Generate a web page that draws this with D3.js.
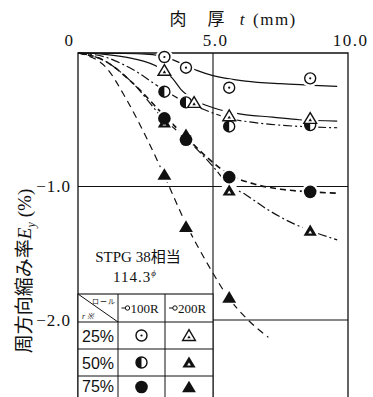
<!DOCTYPE html>
<html>
<head>
<meta charset="utf-8">
<script src="https://d3js.org/d3.v7.min.js"></script>
<style>
body { margin: 0; background: #fff; }
text { fill: #111; }
</style>
</head>
<body>
<svg id="chart" width="373" height="397"></svg>
<script>
// valeurs : t en mm, Ey en %
const xTicks = [0, 5, 10];
const yTicks = [-1, -2];
const rates = ["25%", "50%", "75%"];
const rolls = ["100R", "200R"];

// points mesurés
const t25_100 = [3.2, 4.0, 5.6, 8.6];
const e25_100 = [-0.03, -0.11, -0.26, -0.19];
const t25_200 = [3.2, 4.3, 5.6, 8.6];
const e25_200 = [-0.13, -0.37, -0.47, -0.49];
const t50_100 = [3.2, 4.0, 5.6, 8.6];
const e50_100 = [-0.29, -0.37, -0.55, -0.54];
const t50_200 = [3.2, 4.0, 5.6, 8.6];
const e50_200 = [-0.52, -0.61, -1.03, -1.33];
const t75_100 = [3.2, 4.0, 5.6, 8.6];
const e75_100 = [-0.49, -0.65, -0.93, -1.04];
const t75_200 = [3.2, 4.0, 5.6];
const e75_200 = [-0.91, -1.30, -1.83];

// courbes tracées
const fit25_100 = [[0,0],[1.5,-0.003],[2.5,-0.008],[3.0,-0.02],[3.5,-0.05],[4.4,-0.13],[5.0,-0.17],[6.2,-0.21],[7.5,-0.23],[8.5,-0.24],[9.6,-0.25]];
const fit25_200 = [[0,0],[1,-0.01],[2,-0.04],[3,-0.11],[3.5,-0.19],[3.8,-0.27],[4.3,-0.35],[5.0,-0.41],[6.1,-0.46],[7.2,-0.48],[8.2,-0.50],[9.6,-0.51]];
const fit50_100 = [[0,0],[1,-0.03],[2,-0.12],[3.2,-0.28],[4.0,-0.37],[4.5,-0.41],[5.0,-0.45],[5.6,-0.49],[6.5,-0.52],[8.2,-0.55],[9.6,-0.56]];
const fit50_200 = [[0,0],[1,-0.06],[2,-0.22],[3.2,-0.50],[4.0,-0.64],[5.0,-0.85],[5.6,-0.99],[6.2,-1.06],[7.0,-1.17],[8.0,-1.28],[8.6,-1.33],[9.6,-1.40]];
const fit75_100 = [[0,0],[1,-0.06],[2,-0.22],[3.2,-0.47],[4.0,-0.63],[5.0,-0.82],[5.6,-0.91],[6.5,-0.98],[7.5,-1.02],[8.6,-1.04],[9.6,-1.05]];
const fit75_200 = [[0,0],[1,-0.10],[1.8,-0.35],[2.5,-0.62],[3.2,-0.92],[4.0,-1.28],[4.8,-1.58],[5.6,-1.84],[6.3,-2.0],[7.05,-2.13]];

const svg = d3.select("#chart");

const x = d3.scaleLinear().domain([0, 10]).range([78, 348]);
const y = d3.scaleLinear().domain([0, -2]).range([53, 320]);

const serif = "'Liberation Serif', 'DejaVu Serif', serif";
const cjk = "'Noto Sans CJK JP', sans-serif";

// cadre + grille
svg.append("path")
  .attr("d", `M${x(0)},397 V${y(0)} H${x(10)} V397`)
  .attr("fill", "none").attr("stroke", "#111").attr("stroke-width", 1.3);
svg.append("line")
  .attr("x1", x(5)).attr("x2", x(5)).attr("y1", y(0)).attr("y2", 397)
  .attr("stroke", "#111").attr("stroke-width", 1.1);
svg.selectAll(".hgrid")
  .data(yTicks)
  .enter()
  .append("line")
  .attr("x1", x(0)).attr("x2", x(10))
  .attr("y1", d => y(d)).attr("y2", d => y(d))
  .attr("stroke", "#111").attr("stroke-width", 1.1);

// axes (labels seulement)
const xAxis = svg.append("g")
  .attr("transform", `translate(0,${y(0) - 4})`)
  .call(d3.axisTop(x).tickValues(xTicks).tickSize(0)
    .tickFormat(d => d === 0 ? "0" : d.toFixed(1)));
xAxis.select(".domain").remove();
xAxis.selectAll("text")
  .attr("font-family", serif).attr("font-size", 17)
  .attr("letter-spacing", 1.5).attr("fill", "#111")
  .attr("dx", d => d === 0 ? -9 : 2);

const yAxis = svg.append("g")
  .attr("transform", `translate(${x(0) - 4},0)`)
  .call(d3.axisLeft(y).tickValues(yTicks).tickSize(0)
    .tickFormat(d => "\u2212" + Math.abs(d).toFixed(1)));
yAxis.select(".domain").remove();
yAxis.selectAll("text")
  .attr("font-family", serif).attr("font-size", 17)
  .attr("letter-spacing", 1).attr("fill", "#111");

// titre de l'axe x
const title = svg.append("g").attr("font-size", 17);
title.append("text").attr("x", 178).attr("y", 25).attr("text-anchor", "middle")
  .attr("font-family", cjk).text("肉");
title.append("text").attr("x", 216).attr("y", 25).attr("text-anchor", "middle")
  .attr("font-family", cjk).text("厚");
title.append("text").attr("x", 242).attr("y", 25).attr("text-anchor", "middle")
  .attr("font-family", serif).attr("font-style", "italic").text("t");
title.append("text").attr("x", 253).attr("y", 25)
  .attr("font-family", serif).attr("letter-spacing", 1.5).text("(mm)");

// titre de l'axe y
const ylab = svg.append("text")
  .attr("transform", "translate(31,271) rotate(-90)")
  .attr("text-anchor", "middle")
  .attr("font-size", 19);
ylab.append("tspan").attr("font-family", cjk).text("周方向縮み率");
ylab.append("tspan").attr("font-family", serif).attr("font-style", "italic").text("E");
ylab.append("tspan").attr("font-family", serif).attr("font-style", "italic")
  .attr("font-size", 12).attr("dy", 4).text("y");
ylab.append("tspan").attr("font-family", serif).attr("dy", -4).attr("dx", 5).text("(%)");

// courbes
const line = d3.line()
  .x(d => x(d[0]))
  .y(d => y(d[1]))
  .curve(d3.curveMonotoneX);

const curves = [
  { pts: fit25_100, dash: null, w: 1.2 },
  { pts: fit25_200, dash: null, w: 1.2 },
  { pts: fit50_100, dash: "9,3,2,3", w: 1.2 },
  { pts: fit50_200, dash: "9,3,2,3", w: 1.2 },
  { pts: fit75_100, dash: "6,4", w: 1.6 },
  { pts: fit75_200, dash: "7,5", w: 1.2 }
];

svg.selectAll(".curve")
  .data(curves)
  .enter()
  .append("path")
  .attr("d", d => line(d.pts))
  .attr("fill", "none")
  .attr("stroke", "#111")
  .attr("stroke-width", d => d.w)
  .attr("stroke-dasharray", d => d.dash);

// marqueurs
function triPath(s) {
  return `M0,${-s} L${s * 1.1},${s * 0.85} L${-s * 1.1},${s * 0.85} Z`;
}

function drawMarker(g, type) {
  if (type === "circDot") {
    g.append("circle").attr("r", 5.5).attr("fill", "#fff").attr("stroke", "#111").attr("stroke-width", 1.4);
    g.append("circle").attr("r", 1.1).attr("fill", "#111");
  } else if (type === "circHalf") {
    g.append("circle").attr("r", 5.5).attr("fill", "#fff").attr("stroke", "#111").attr("stroke-width", 1.4);
    g.append("path").attr("d", "M0,-5.5 A5.5,5.5 0 0 0 0,5.5 Z").attr("fill", "#111");
  } else if (type === "circFull") {
    g.append("circle").attr("r", 6.3).attr("fill", "#111");
  } else if (type === "triDot") {
    g.append("path").attr("d", triPath(5.8)).attr("fill", "#fff").attr("stroke", "#111").attr("stroke-width", 1.4);
    g.append("path").attr("d", triPath(1.6)).attr("transform", "translate(0,1.5)").attr("fill", "#111");
  } else if (type === "triBold") {
    g.append("path").attr("d", triPath(6)).attr("fill", "#111");
    g.append("path").attr("d", triPath(1.7)).attr("transform", "translate(0,1.6)").attr("fill", "#fff");
  } else if (type === "triFull") {
    g.append("path").attr("d", triPath(6.3)).attr("fill", "#111");
  }
}

const series = [
  { t: t50_200, e: e50_200, type: "triBold" },
  { t: t50_100, e: e50_100, type: "circHalf" },
  { t: t25_200, e: e25_200, type: "triDot" },
  { t: t25_100, e: e25_100, type: "circDot" },
  { t: t75_100, e: e75_100, type: "circFull" },
  { t: t75_200, e: e75_200, type: "triFull" }
];

const points = [];
series.forEach(s => s.t.forEach((t, i) => points.push({ t: t, e: s.e[i], type: s.type })));

// blanc autour des points : coupe les courbes
svg.selectAll(".halo")
  .data(points)
  .enter()
  .append("circle")
  .attr("cx", d => x(d.t))
  .attr("cy", d => y(d.e))
  .attr("r", 8.5)
  .attr("fill", "#fff");

svg.selectAll(".pt")
  .data(points)
  .enter()
  .append("g")
  .attr("transform", d => `translate(${x(d.t)},${y(d.e)})`)
  .each(function(d) { drawMarker(d3.select(this), d.type); });

// texte matériau
svg.append("text")
  .attr("x", 138).attr("y", 262)
  .attr("text-anchor", "middle")
  .attr("font-size", 15)
  .call(t => {
    t.append("tspan").attr("font-family", serif).text("STPG 38");
    t.append("tspan").attr("font-family", cjk).text("相当");
  });
svg.append("text")
  .attr("x", 135).attr("y", 282)
  .attr("text-anchor", "middle")
  .attr("font-family", serif)
  .attr("font-size", 15)
  .attr("letter-spacing", 1)
  .call(t => {
    t.append("tspan").text("114.3");
    t.append("tspan").attr("font-size", 9).attr("dy", -6).attr("font-style", "italic").text("ϕ");
  });

// tableau légende
const colX = [78, 118, 165, 213];
const rowY = [294, 322, 349, 376, 403];
const table = svg.append("g");
table.append("rect")
  .attr("x", colX[0]).attr("y", rowY[0])
  .attr("width", colX[3] - colX[0]).attr("height", 397 - rowY[0] + 5)
  .attr("fill", "#fff").attr("stroke", "#111").attr("stroke-width", 1.1);
colX.slice(1, 3).forEach(cx => {
  table.append("line").attr("x1", cx).attr("x2", cx).attr("y1", rowY[0]).attr("y2", 397)
    .attr("stroke", "#111").attr("stroke-width", 1);
});
rowY.slice(1, 4).forEach(ry => {
  table.append("line").attr("x1", colX[0]).attr("x2", colX[3]).attr("y1", ry).attr("y2", ry)
    .attr("stroke", "#111").attr("stroke-width", 1);
});
table.append("line")
  .attr("x1", colX[0]).attr("y1", rowY[0]).attr("x2", colX[1]).attr("y2", rowY[1])
  .attr("stroke", "#111").attr("stroke-width", 1);
table.append("text").attr("x", 104).attr("y", 304)
  .attr("text-anchor", "middle").attr("font-family", cjk).attr("font-size", 7)
  .attr("letter-spacing", 1).text("ロール");
table.append("text").attr("x", 82).attr("y", 319)
  .attr("font-family", serif).attr("font-size", 8).attr("font-style", "italic")
  .text("r ※");

rolls.forEach((r, i) => {
  const cx = (colX[i + 1] + colX[i + 2]) / 2;
  const g = table.append("g").attr("transform", `translate(${cx},308)`);
  g.append("line").attr("x1", -20).attr("x2", -13).attr("y1", 0).attr("y2", 0)
    .attr("stroke", "#111").attr("stroke-width", 1);
  g.append("circle").attr("cx", -14).attr("cy", 0).attr("r", 2.2)
    .attr("fill", "#fff").attr("stroke", "#111").attr("stroke-width", 1);
  g.append("text").attr("x", 3).attr("y", 4.5).attr("text-anchor", "middle")
    .attr("font-family", serif).attr("font-size", 13).text(r);
});

const legendTypes = [["circDot", "triDot"], ["circHalf", "triBold"], ["circFull", "triFull"]];
rates.forEach((r, i) => {
  const cy = (rowY[i + 1] + rowY[i + 2]) / 2;
  table.append("text").attr("x", 98).attr("y", Math.min(cy + 6, 392))
    .attr("text-anchor", "middle").attr("font-family", "'Liberation Sans', sans-serif")
    .attr("font-size", 16).text(r);
  legendTypes[i].forEach((tp, j) => {
    const cx = (colX[j + 1] + colX[j + 2]) / 2;
    drawMarker(table.append("g").attr("transform", `translate(${cx},${Math.min(cy, 387)})`), tp);
  });
});
</script>
</body>
</html>
